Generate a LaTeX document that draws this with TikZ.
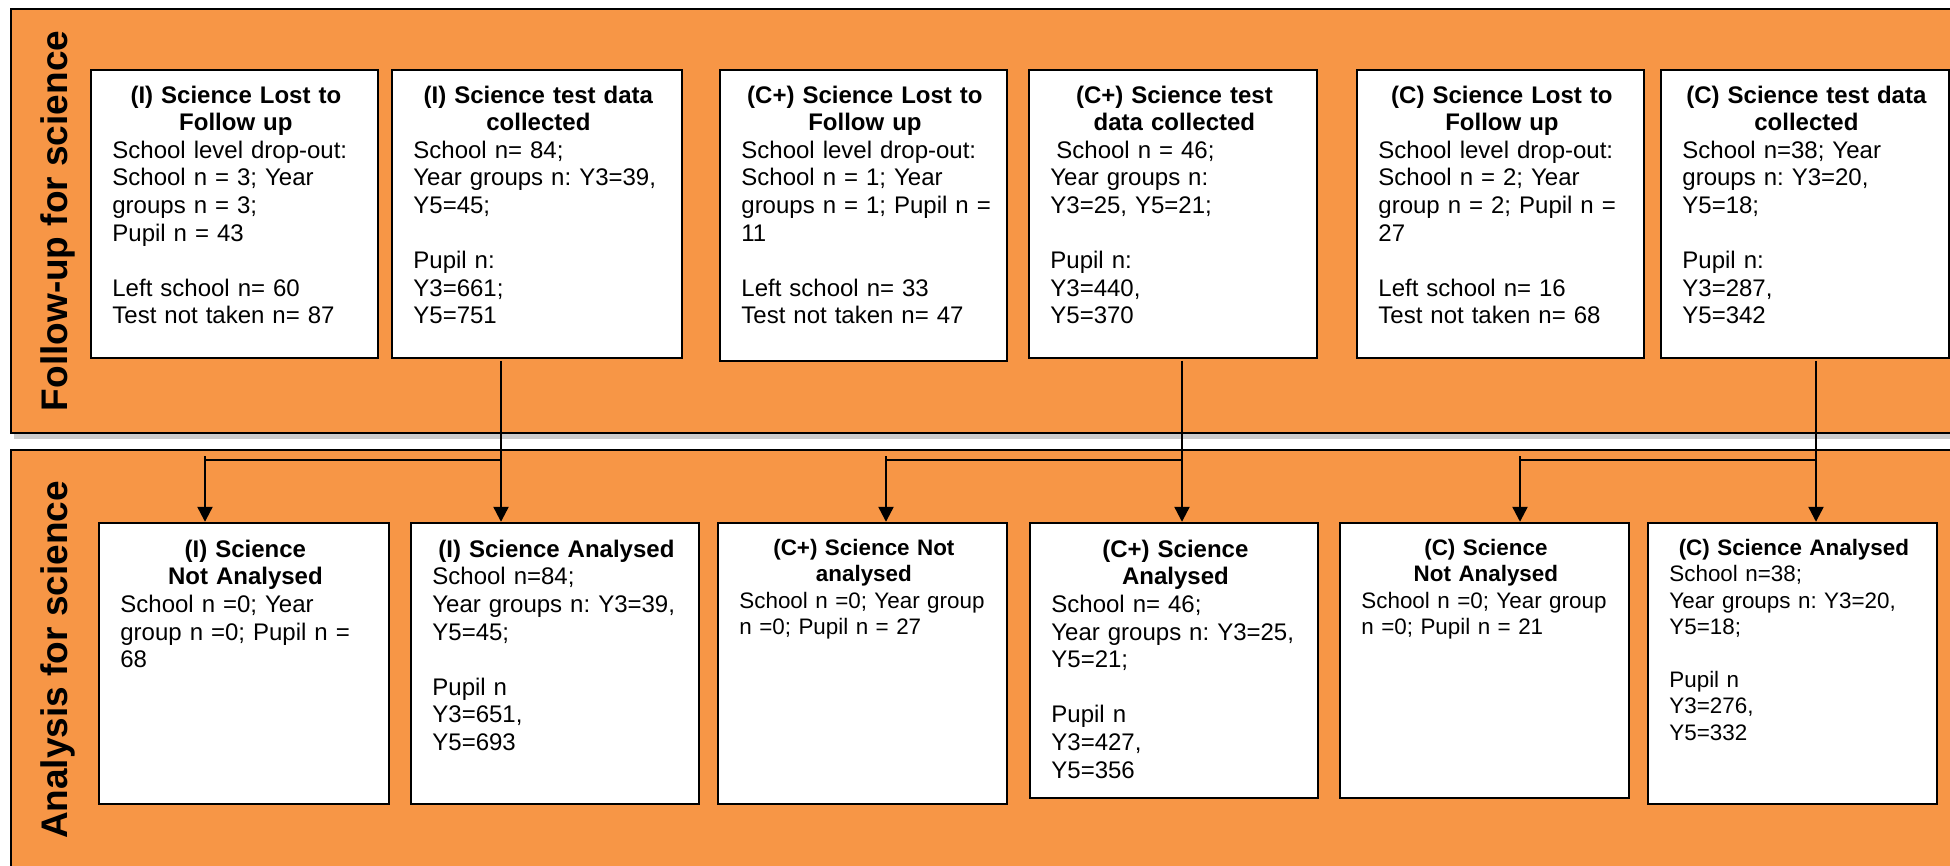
\documentclass[tikz,border=0pt]{standalone}
\usepackage{fontspec}
\setmainfont{Liberation Sans}
\usetikzlibrary{arrows.meta}
\definecolor{panelorange}{HTML}{F79646}
\newcommand{\ttl}[1]{{\centering\bfseries #1\par}}
\newcommand{\nb}[1]{\mbox{#1}}
\frenchspacing
\begin{document}
\begin{tikzpicture}[x=0.5pt,y=-0.5pt,
  panel/.style={draw=black, line width=1.4pt, fill=panelorange},
  shadowbox/.style={fill=black!20},
  box/.style={draw=black, line width=1.15pt, fill=white, anchor=north west, inner sep=0pt, outer sep=0pt},
  txt/.style={anchor=north west, inner sep=0pt, align=left, font=\fontsize{12}{13.8}\selectfont\frenchspacing},
  txtsm/.style={txt, font=\fontsize{11.2}{13.2}\selectfont\frenchspacing},
  lbl/.style={rotate=90, anchor=base, font=\fontsize{18.5}{22}\selectfont\bfseries, inner sep=0pt},
  conn/.style={line width=1.15pt, draw=black},
  arr/.style={conn, -{Triangle[width=7.5pt,length=7.5pt]}, shorten >=0.6pt, shorten <=1.5pt}]

\useasboundingbox (0,0) rectangle (1950,866);
\fill[shadowbox] (14,14) rectangle (1960,439);
\fill[shadowbox] (14,455) rectangle (1960,880);
\draw[panel] (11,9) rectangle (1956,433);
\draw[panel] (11,450) rectangle (1956,880);

\node[lbl] (L1) at (68,221) {Follow-up for science};
\node[lbl] (L2) at (68,660) {Analysis for science};

% top row
\node[box, minimum width=143.5pt, minimum height=144pt] (T1) at (91,70) {};
\node[box, minimum width=145pt, minimum height=144pt] (T2) at (392,70) {};
\node[box, minimum width=143.5pt, minimum height=145.5pt] (T3) at (720,70) {};
\node[box, minimum width=144pt, minimum height=144pt] (T4) at (1029,70) {};
\node[box, minimum width=143.5pt, minimum height=144pt] (T5) at (1357,70) {};
\node[box, minimum width=144pt, minimum height=144pt] (T6) at (1661,70) {};

\node[txt, text width=123.5pt] (T1t) at ([xshift=10.5pt,yshift=-7.7pt]T1.north west)
 {\ttl{(I) Science Lost to\\Follow up}\nb{School level drop-out:}\\School n = 3; Year\\groups n = 3;\\Pupil n = 43\\[13.8pt]Left school n= 60\\\nb{Test not taken n= 87}};
\node[txt, text width=125pt] (T2t) at ([xshift=10.5pt,yshift=-7.7pt]T2.north west)
 {\ttl{(I) Science test data\\collected}School n= 84;\\\nb{Year groups n: Y3=39,}\\Y5=45;\\[13.8pt]Pupil n:\\Y3=661;\\Y5=751};
\node[txt, text width=123.5pt] (T3t) at ([xshift=10.5pt,yshift=-7.7pt]T3.north west)
 {\ttl{(C+) Science Lost to\\Follow up}\nb{School level drop-out:}\\School n = 1; Year\\\nb{groups n = 1; Pupil n =}\\11\\[13.8pt]Left school n= 33\\\nb{Test not taken n= 47}};
\node[txt, text width=124pt] (T4t) at ([xshift=10.5pt,yshift=-7.7pt]T4.north west)
 {\ttl{(C+) Science test\\data collected}\hspace*{3pt}School n = 46;\\Year groups n:\\Y3=25, Y5=21;\\[13.8pt]Pupil n:\\Y3=440,\\Y5=370};
\node[txt, text width=123.5pt] (T5t) at ([xshift=10.5pt,yshift=-7.7pt]T5.north west)
 {\ttl{(C) Science Lost to\\Follow up}\nb{School level drop-out:}\\School n = 2; Year\\\nb{group n = 2; Pupil n =}\\27\\[13.8pt]Left school n= 16\\\nb{Test not taken n= 68}};
\node[txt, text width=124pt] (T6t) at ([xshift=10.5pt,yshift=-7.7pt]T6.north west)
 {\ttl{(C) Science test data\\collected}School n=38; Year\\groups n: Y3=20,\\Y5=18;\\[13.8pt]Pupil n:\\Y3=287,\\Y5=342};

% bottom row
\node[box, minimum width=145pt, minimum height=140.5pt] (B1) at (99,523) {};
\node[box, minimum width=144pt, minimum height=140.5pt] (B2) at (411,523) {};
\node[box, minimum width=144.5pt, minimum height=140.5pt] (B3) at (718,523) {};
\node[box, minimum width=144pt, minimum height=137.5pt] (B4) at (1030,523) {};
\node[box, minimum width=144.5pt, minimum height=137.5pt] (B5) at (1340,523) {};
\node[box, minimum width=144.5pt, minimum height=140.5pt] (B6) at (1648,523) {};

\node[txt, text width=125pt] (B1t) at ([xshift=10.5pt,yshift=-8.3pt]B1.north west)
 {\ttl{(I) Science\\Not Analysed}School n =0; Year\\\nb{group n =0; Pupil n =}\\68};
\node[txt, text width=124pt] (B2t) at ([xshift=10.5pt,yshift=-8.3pt]B2.north west)
 {\ttl{(I) Science Analysed}School n=84;\\\nb{Year groups n: Y3=39,}\\Y5=45;\\[13.8pt]Pupil n\\Y3=651,\\Y5=693};
\node[txtsm, text width=124.5pt] (B3t) at ([xshift=10.5pt,yshift=-7.8pt]B3.north west)
 {\ttl{(C+) Science Not\\analysed}\nb{School n =0; Year group}\\n =0; Pupil n = 27};
\node[txt, text width=124pt] (B4t) at ([xshift=10.5pt,yshift=-8.3pt]B4.north west)
 {\ttl{(C+) Science\\Analysed}School n= 46;\\\nb{Year groups n: Y3=25,}\\Y5=21;\\[13.8pt]Pupil n\\Y3=427,\\Y5=356};
\node[txtsm, text width=124.5pt] (B5t) at ([xshift=10.5pt,yshift=-7.8pt]B5.north west)
 {\ttl{(C) Science\\Not Analysed}\nb{School n =0; Year group}\\n =0; Pupil n = 21};
\node[txtsm, text width=124.5pt] (B6t) at ([xshift=10.5pt,yshift=-7.8pt]B6.north west)
 {\ttl{(C) Science Analysed}School n=38;\\\nb{Year groups n: Y3=20,}\\Y5=18;\\[13.2pt]Pupil n\\Y3=276,\\Y5=332};

% connectors
\coordinate (j1) at (501,460);  \coordinate (k1) at (205,456);
\coordinate (j2) at (1182,460); \coordinate (k2) at (886,456);
\coordinate (j3) at (1816,460); \coordinate (k3) at (1520,456);

\draw[arr] (T2.south -| j1) -- (B2.north -| j1);
\draw[conn] (j1) -- (k1 |- j1);
\draw[arr, shorten <=0pt] (k1) -- (B1.north -| k1);

\draw[arr] (T4.south -| j2) -- (B4.north -| j2);
\draw[conn] (j2) -- (k2 |- j2);
\draw[arr, shorten <=0pt] (k2) -- (B3.north -| k2);

\draw[arr] (T6.south -| j3) -- (B6.north -| j3);
\draw[conn] (j3) -- (k3 |- j3);
\draw[arr, shorten <=0pt] (k3) -- (B5.north -| k3);
\end{tikzpicture}
\end{document}
